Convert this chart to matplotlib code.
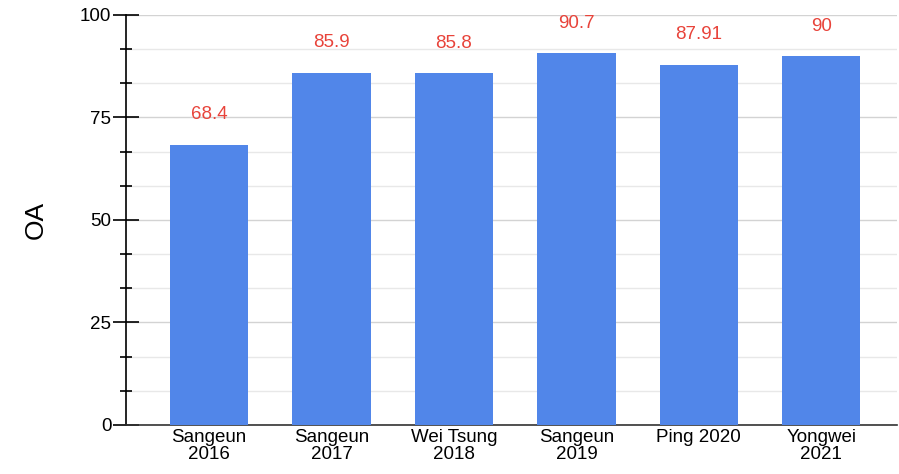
import matplotlib
matplotlib.use("Agg")
import matplotlib.pyplot as plt
import numpy as np

plt.rcParams['font.family'] = ['Liberation Sans', 'DejaVu Sans']

categories = ['Sangeun\n2016', 'Sangeun\n2017', 'Wei Tsung\n2018',
              'Sangeun\n2019', 'Ping 2020', 'Yongwei\n2021']
oa = [68.4, 85.9, 85.8, 90.7, 87.91, 90]
labels = ['68.4', '85.9', '85.8', '90.7', '87.91', '90']

fig = plt.figure(figsize=(8.99, 4.74), dpi=100)
ax = fig.add_axes([0.140, 0.1034, 0.858, 0.865])

x = np.arange(len(categories))
ax.bar(x, oa, width=0.64, color='#5186e9', zorder=3)

for xi, v, t in zip(x, oa, labels):
    ax.text(xi, v + 7.3, t, ha='center', va='center', color='#e8433a', fontsize=13.5, zorder=4)

ax.set_xlim(-0.68, 5.62)
ax.set_ylim(0, 100)
ax.set_yticks([0, 25, 50, 75, 100])
ax.set_yticks(np.arange(0, 100, 100 / 12), minor=True)
ax.set_xticks(x)
ax.set_xticklabels(categories, fontsize=13.5, linespacing=0.98)

ax.grid(axis='y', which='major', color='#d3d3d3', linewidth=1, zorder=0)
ax.grid(axis='y', which='minor', color='#e8e8e8', linewidth=1, zorder=0)

ax.tick_params(axis='y', which='major', direction='inout', length=19, width=1.2, labelsize=13.5, pad=1)
ax.tick_params(axis='y', which='minor', direction='inout', length=9, width=1.2)
ax.tick_params(axis='x', length=0, pad=3)

for s in ['top', 'right']:
    ax.spines[s].set_visible(False)
ax.spines['left'].set_linewidth(1.2)
ax.spines['bottom'].set_color('#333333')
ax.spines['bottom'].set_linewidth(1.2)

ax.set_ylabel('OA', fontsize=19, va='center')
ax.yaxis.set_label_coords(-0.117, 0.5)

fig.savefig('out.png', dpi=100)
